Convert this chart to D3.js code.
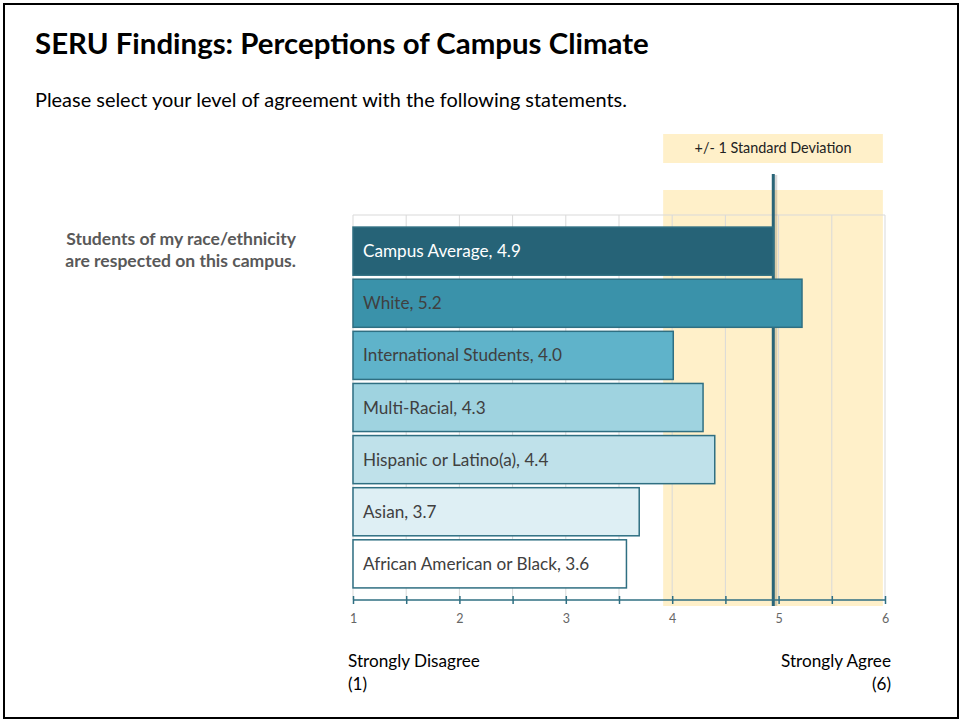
<!DOCTYPE html>
<html>
<head>
<meta charset="utf-8">
<script src="https://cdn.jsdelivr.net/npm/d3@7"></script>
<style>
  body { margin: 0; background: #fff; }
  svg text { font-family: Lato, "Open Sans", sans-serif; }
</style>
</head>
<body>
<script>
// chart values
var categories = ["Campus Average", "White", "International Students", "Multi-Racial",
    "Hispanic or Latino(a)", "Asian", "African American or Black"];
var values = [4.95, 5.22, 4.01, 4.29, 4.40, 3.69, 3.57];
var valueLabels = ["4.9", "5.2", "4.0", "4.3", "4.4", "3.7", "3.6"];
var barColors = ["#266377", "#3a92aa", "#5fb3ca", "#9fd3e0", "#bfe1ea", "#deeff4", "#ffffff"];
var stdBand = [3.915, 5.98];
var campusMean = 4.95;
var tickValues = [1, 1.5, 2, 2.5, 3, 3.5, 4, 4.5, 5, 5.5, 6];

var width = 965,
    height = 723;

var svg = d3.select("body")
    .append("svg")
    .attr("width", width)
    .attr("height", height);

/**
 * sets the font size of a text element so it spans the given width
 */
function fitWidth(sel, w) {
    sel.style("font-size", "100px");
    var len = sel.node().getComputedTextLength();
    sel.style("font-size", (100 * w / len).toFixed(2) + "px");
    return sel;
}

// frame
svg.append("rect")
    .attr("x", 4).attr("y", 4)
    .attr("width", 954).attr("height", 714)
    .attr("fill", "#fff")
    .attr("stroke", "#000")
    .attr("stroke-width", 2);

svg.append("text")
    .attr("x", 35).attr("y", 54)
    .style("font-weight", "bold")
    .style("fill", "#000")
    .text("SERU Findings: Perceptions of Campus Climate")
    .call(fitWidth, 614);

svg.append("text")
    .attr("x", 35).attr("y", 107)
    .style("fill", "#000")
    .text("Please select your level of agreement with the following statements.")
    .call(fitWidth, 592);

var x = d3.scaleLinear().domain([1, 6]).range([353, 885]);
var y = d3.scaleBand().domain(categories).range([225, 590])
    .paddingInner(0.077).paddingOuter(0.04);

var plotTop = 215,
    axisY = 600;

// std dev band
svg.append("rect")
    .attr("x", x(stdBand[0]))
    .attr("y", 134)
    .attr("width", x(stdBand[1]) - x(stdBand[0]))
    .attr("height", 29)
    .attr("fill", "#fff0c9");
svg.append("text")
    .attr("x", (x(stdBand[0]) + x(stdBand[1])) / 2)
    .attr("y", 153)
    .attr("text-anchor", "middle")
    .style("fill", "#222")
    .text("+/- 1 Standard Deviation")
    .call(fitWidth, 157);
svg.append("rect")
    .attr("x", x(stdBand[0]))
    .attr("y", 190)
    .attr("width", x(stdBand[1]) - x(stdBand[0]))
    .attr("height", 606 - 190)
    .attr("fill", "#fff0c9");

// grid
svg.selectAll("line.grid")
    .data(tickValues)
    .enter()
    .append("line")
    .attr("class", "grid")
    .attr("x1", function (d) { return x(d); })
    .attr("x2", function (d) { return x(d); })
    .attr("y1", plotTop)
    .attr("y2", axisY)
    .attr("stroke", "#d9d9d9")
    .attr("stroke-width", 1);
svg.append("line")
    .attr("x1", x(1)).attr("x2", x(6))
    .attr("y1", plotTop).attr("y2", plotTop)
    .attr("stroke", "#d9d9d9");

// campus average line (behind the bars)
svg.append("line")
    .attr("x1", x(campusMean) + 1.5).attr("x2", x(campusMean) + 1.5)
    .attr("y1", 175).attr("y2", 606)
    .attr("stroke", "#000")
    .attr("stroke-opacity", 0.15)
    .attr("stroke-width", 5);
svg.append("line")
    .attr("x1", x(campusMean)).attr("x2", x(campusMean))
    .attr("y1", 174).attr("y2", 606)
    .attr("stroke", "#2a6578")
    .attr("stroke-width", 3);

// bars
svg.selectAll("rect.bar")
    .data(categories)
    .enter()
    .append("rect")
    .attr("class", "bar")
    .attr("x", x(1))
    .attr("y", function (d) { return y(d); })
    .attr("width", function (d, i) { return x(values[i]) - x(1); })
    .attr("height", y.bandwidth())
    .attr("fill", function (d, i) { return barColors[i]; })
    .attr("stroke", "#2f6f82")
    .attr("stroke-width", 1.5);

var labels = svg.selectAll("text.barlabel")
    .data(categories)
    .enter()
    .append("text")
    .attr("class", "barlabel")
    .attr("x", x(1) + 10)
    .attr("y", function (d) { return y(d) + y.bandwidth() / 2; })
    .attr("dy", ".35em")
    .style("fill", function (d, i) { return i === 0 ? "#ffffff" : "#404040"; })
    .text(function (d, i) { return d + ", " + valueLabels[i]; });
// all bar labels share the size that makes the first one 158px wide
fitWidth(d3.select(labels.node()), 158);
labels.style("font-size", d3.select(labels.node()).style("font-size"));

// axis
var axis = d3.axisBottom(x)
    .tickValues(tickValues)
    .tickSize(4)
    .tickFormat(function (d) { return d % 1 === 0 ? d : ""; });
var gAxis = svg.append("g")
    .attr("transform", "translate(0," + axisY + ")")
    .call(axis);
gAxis.select(".domain")
    .attr("d", "M" + x(1) + ",0H" + x(6))
    .attr("stroke", "#2f6f82")
    .attr("stroke-width", 1.5);
gAxis.selectAll(".tick line")
    .attr("y1", -4)
    .attr("stroke", "#2f6f82")
    .attr("stroke-width", 1.5);
gAxis.selectAll(".tick text")
    .attr("y", 14)
    .style("font-family", "Lato, sans-serif")
    .style("font-size", "12.5px")
    .style("fill", "#666");

// question label
var question = ["Students of my race/ethnicity", "are respected on this campus."];
var qText = svg.selectAll("text.question")
    .data(question)
    .enter()
    .append("text")
    .attr("class", "question")
    .attr("x", 296)
    .attr("y", function (d, i) { return 245 + i * 22; })
    .attr("text-anchor", "end")
    .style("font-weight", "bold")
    .style("fill", "#595959")
    .text(function (d) { return d; });
fitWidth(d3.select(qText.node()), 230);
qText.style("font-size", d3.select(qText.node()).style("font-size"));

// scale end labels
var ends = [
    {t: "Strongly Disagree", x: 348, y: 667, a: "start"},
    {t: "(1)", x: 348, y: 690, a: "start"},
    {t: "Strongly Agree", x: 891, y: 667, a: "end"},
    {t: "(6)", x: 891, y: 690, a: "end"}
];
var endText = svg.selectAll("text.end")
    .data(ends)
    .enter()
    .append("text")
    .attr("class", "end")
    .attr("x", function (d) { return d.x; })
    .attr("y", function (d) { return d.y; })
    .attr("text-anchor", function (d) { return d.a; })
    .style("fill", "#000")
    .text(function (d) { return d.t; });
fitWidth(d3.select(endText.node()), 132);
endText.style("font-size", d3.select(endText.node()).style("font-size"));
</script>
</body>
</html>
